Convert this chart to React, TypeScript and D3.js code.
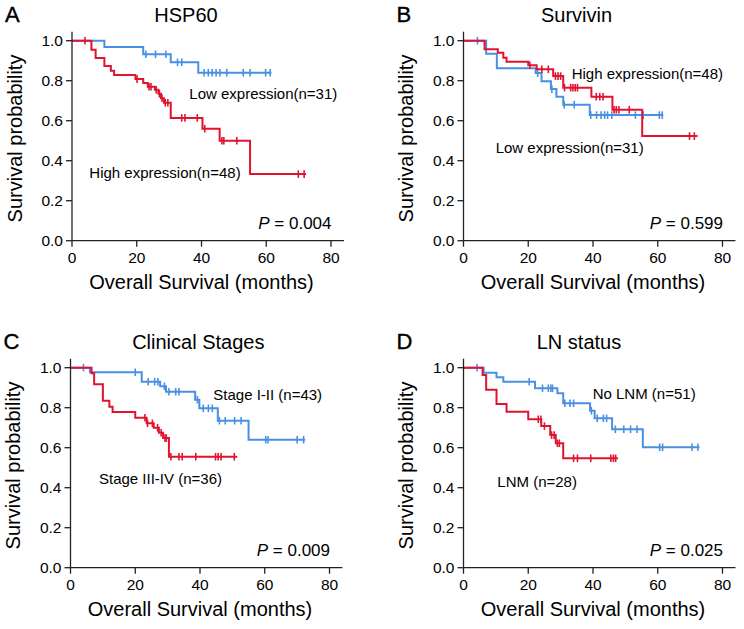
import React from "react";
import * as d3 from "d3";

// ---------- DATA ----------
const xTicks = [0, 20, 40, 60, 80];
const yTicks = [0, 0.2, 0.4, 0.6, 0.8, 1.0];

// Panel A – HSP60
const aLowTimes = [10, 22, 30.5, 39];
const aLowSurv = [0.968, 0.932, 0.892, 0.84];
const aLowCensor = [22.8, 25.8, 29, 32.6, 33.9, 40.8, 42.1, 43.3, 44.5, 45.7, 47.8, 52.9, 55, 59.8, 61.2];
const aLowEnd = 61.6;
const aHighTimes = [6, 7.3, 10, 12, 13, 19.6, 22, 23.4, 25.6, 26.7, 27.5, 28.4, 30.5, 40.3, 45.6, 55];
const aHighSurv = [0.955, 0.913, 0.873, 0.85, 0.828, 0.808, 0.788, 0.77, 0.755, 0.735, 0.712, 0.69, 0.614, 0.56, 0.5, 0.333];
const aHighCensor = [4, 20.1, 23.8, 24.4, 26, 27, 27.8, 28.8, 29.6, 33.9, 34.9, 38.7, 41, 46.3, 46.9, 50.9, 69.9, 71.7];
const aHighEnd = 72.3;

// Panel B – Survivin
const bLowTimes = [7, 10.3, 22.3, 24.1, 27, 28.7, 30.8, 39];
const bLowSurv = [0.935, 0.862, 0.838, 0.797, 0.758, 0.72, 0.68, 0.628];
const bLowCensor = [4.3, 22.9, 27.3, 31.1, 34.2, 39.3, 41.1, 42.5, 43.6, 44.5, 45.8, 53.1, 55.5, 60.5, 61.4];
const bLowEnd = 61.7;
const bHighTimes = [6.5, 10.6, 12.3, 13.3, 20, 22.6, 27.7, 30.8, 39.5, 46, 55.2];
const bHighSurv = [0.957, 0.94, 0.915, 0.895, 0.877, 0.857, 0.823, 0.765, 0.72, 0.655, 0.523];
const bHighCensor = [20.5, 24.2, 26.2, 28.4, 29.2, 30, 31.2, 33.1, 33.8, 34.5, 35.2, 41, 42.1, 43.1, 46.5, 47.2, 48, 51.2, 69.8, 71.3];
const bHighEnd = 72.3;

// Panel C – Clinical Stages
const cLowTimes = [6, 22, 27.7, 29.5, 38.5, 39.8, 45.5, 55];
const cLowSurv = [0.977, 0.93, 0.907, 0.88, 0.84, 0.797, 0.735, 0.64];
const cLowCensor = [4, 20, 24, 26, 27, 29, 30.4, 32.5, 33.5, 39.2, 41, 42.6, 43.8, 46, 47.8, 50.7, 52.7, 60.3, 61, 70, 72];
const cLowEnd = 72.5;
const cHighTimes = [6.5, 7.3, 10, 12, 13, 20, 23.5, 25.7, 27.3, 28.6, 30.4];
const cHighSurv = [0.972, 0.917, 0.835, 0.805, 0.778, 0.75, 0.722, 0.7, 0.675, 0.648, 0.555];
const cHighCensor = [23, 23.8, 25.3, 26.9, 28, 29.2, 29.6, 31, 33.5, 34.5, 38.7, 44.8, 45.6, 46.5, 50.6];
const cHighEnd = 51.5;

// Panel D – LN status
const dLowTimes = [6.2, 10.2, 12.3, 22.1, 29, 30.8, 39.1, 40.5, 45.9, 55.4];
const dLowSurv = [0.975, 0.952, 0.93, 0.897, 0.872, 0.822, 0.785, 0.747, 0.692, 0.602];
const dLowCensor = [4.2, 20.3, 24.4, 26.2, 27, 27.5, 31.3, 32.9, 34, 39.5, 41.3, 43.2, 44.2, 46.9, 49.5, 51.6, 53.6, 60.6, 61.5, 70.6, 72.4];
const dLowEnd = 72.9;
const dHighTimes = [5.9, 7, 10.2, 13.3, 20, 24, 26.8, 28.5, 30.8];
const dHighSurv = [0.964, 0.89, 0.818, 0.78, 0.742, 0.708, 0.663, 0.622, 0.547];
const dHighCensor = [23.1, 23.9, 25, 27.2, 28, 29, 29.6, 34, 35.2, 39.3, 45.5, 46.3, 47];
const dHighEnd = 47.7;

// ---------- STYLE / LAYOUT ----------
const BLUE = "#4a90e2";
const RED = "#e0142f";
const FONT = "'Liberation Sans', Arial, Helvetica, sans-serif";

type Curve = { times: number[]; surv: number[]; censor: number[]; end: number; color: string };
type Label = { text: string; x: number; y: number };
type PanelDef = {
  dx: number;
  dy: number;
  letter: string;
  title: string;
  titleX: number;
  pval: string;
  curves: Curve[];
  labels: Label[];
};

const panels: PanelDef[] = [
  {
    dx: 0, dy: 0, letter: "A", title: "HSP60", titleX: 186, pval: "0.004",
    curves: [
      { times: aLowTimes, surv: aLowSurv, censor: aLowCensor, end: aLowEnd, color: BLUE },
      { times: aHighTimes, surv: aHighSurv, censor: aHighCensor, end: aHighEnd, color: RED },
    ],
    labels: [
      { text: "Low expression(n=31)", x: 189.3, y: 99 },
      { text: "High expression(n=48)", x: 89.3, y: 178.3 },
    ],
  },
  {
    dx: 391.5, dy: 0, letter: "B", title: "Survivin", titleX: 185, pval: "0.599",
    curves: [
      { times: bLowTimes, surv: bLowSurv, censor: bLowCensor, end: bLowEnd, color: BLUE },
      { times: bHighTimes, surv: bHighSurv, censor: bHighCensor, end: bHighEnd, color: RED },
    ],
    labels: [
      { text: "High expression(n=48)", x: 180.2, y: 79 },
      { text: "Low expression(n=31)", x: 104.2, y: 152.7 },
    ],
  },
  {
    dx: -1.5, dy: 327, letter: "C", title: "Clinical Stages", titleX: 199.8, pval: "0.009",
    curves: [
      { times: cLowTimes, surv: cLowSurv, censor: cLowCensor, end: cLowEnd, color: BLUE },
      { times: cHighTimes, surv: cHighSurv, censor: cHighCensor, end: cHighEnd, color: RED },
    ],
    labels: [
      { text: "Stage I-II (n=43)", x: 214.8, y: 73 },
      { text: "Stage III-IV (n=36)", x: 100.5, y: 157 },
    ],
  },
  {
    dx: 391.5, dy: 327, letter: "D", title: "LN status", titleX: 187.5, pval: "0.025",
    curves: [
      { times: dLowTimes, surv: dLowSurv, censor: dLowCensor, end: dLowEnd, color: BLUE },
      { times: dHighTimes, surv: dHighSurv, censor: dHighCensor, end: dHighEnd, color: RED },
    ],
    labels: [
      { text: "No LNM (n=51)", x: 201.2, y: 72 },
      { text: "LNM (n=28)", x: 105.8, y: 159.7 },
    ],
  },
];

const x = d3.scaleLinear().domain([0, 80]).range([72, 331]);
const y = d3.scaleLinear().domain([0, 1]).range([240.7, 40.7]);

function survAt(c: Curve, t: number) {
  const i = d3.bisectRight(c.times, t);
  return i === 0 ? 1 : c.surv[i - 1];
}

const line = d3
  .line<[number, number]>()
  .x((d) => x(d[0]))
  .y((d) => y(d[1]))
  .curve(d3.curveStepAfter);

function Panel({ p }: { p: PanelDef }) {
  const xMax = 84;
  const yMax = 1.045;
  return (
    <g transform={`translate(${p.dx},${p.dy})`} fontFamily={FONT}>
      <text x={5} y={21.7} fontSize={22} fill="#000" stroke="#000" strokeWidth={0.4}>{p.letter}</text>
      <text x={p.titleX} y={21.7} fontSize={20} textAnchor="middle" fill="#000">{p.title}</text>
      {p.curves.map((c, ci) => {
        const pts: [number, number][] = [[0, 1]];
        c.times.forEach((t, i) => pts.push([t, c.surv[i]]));
        pts.push([c.end, c.surv[c.surv.length - 1]]);
        return (
          <g key={ci}>
            <path d={line(pts) || ""} fill="none" stroke={c.color} strokeWidth={2} />
            {c.censor.map((t, k) => {
              const s = survAt(c, t);
              return (
                <line key={k} x1={x(t)} x2={x(t)} y1={y(s) - 3.8} y2={y(s) + 3.8} stroke={c.color} strokeWidth={1.6} />
              );
            })}
          </g>
        );
      })}
      <line x1={x(0)} x2={x(0)} y1={y(0)} y2={y(yMax)} stroke="#222" strokeWidth={1.3} />
      <line x1={x(0)} x2={x(xMax)} y1={y(0)} y2={y(0)} stroke="#222" strokeWidth={1.3} />
      {yTicks.map((v) => (
        <g key={v}>
          <line x1={x(0) - 6} x2={x(0)} y1={y(v)} y2={y(v)} stroke="#222" strokeWidth={1.3} />
          <text x={x(0) - 9} y={y(v) + 5.3} fontSize={15.5} textAnchor="end" fill="#000">{v.toFixed(1)}</text>
        </g>
      ))}
      {xTicks.map((v) => (
        <g key={v}>
          <line x1={x(v)} x2={x(v)} y1={y(0)} y2={y(0) + 6} stroke="#222" strokeWidth={1.3} />
          <text x={x(v)} y={263.3} fontSize={15.5} textAnchor="middle" fill="#000">{v}</text>
        </g>
      ))}
      <text x={(x(0) + x(80)) / 2} y={289} fontSize={20} textAnchor="middle" fill="#000">Overall Survival (months)</text>
      <text transform={`translate(21.7,138.5) rotate(-90)`} fontSize={20} textAnchor="middle" fill="#000">Survival probability</text>
      {p.labels.map((l, i) => (
        <text key={i} x={l.x} y={l.y} fontSize={15} fill="#000">{l.text}</text>
      ))}
      <text x={331.5} y={229} fontSize={17} textAnchor="end" fill="#000">
        <tspan fontStyle="italic">P</tspan> = {p.pval}
      </text>
    </g>
  );
}

export default function App() {
  return (
    <svg width={744} height={629} style={{ position: "absolute", left: 0, top: 0, background: "#fff" }}>
      <rect width={744} height={629} fill="#fff" />
      {panels.map((p) => (
        <Panel key={p.letter} p={p} />
      ))}
    </svg>
  );
}
